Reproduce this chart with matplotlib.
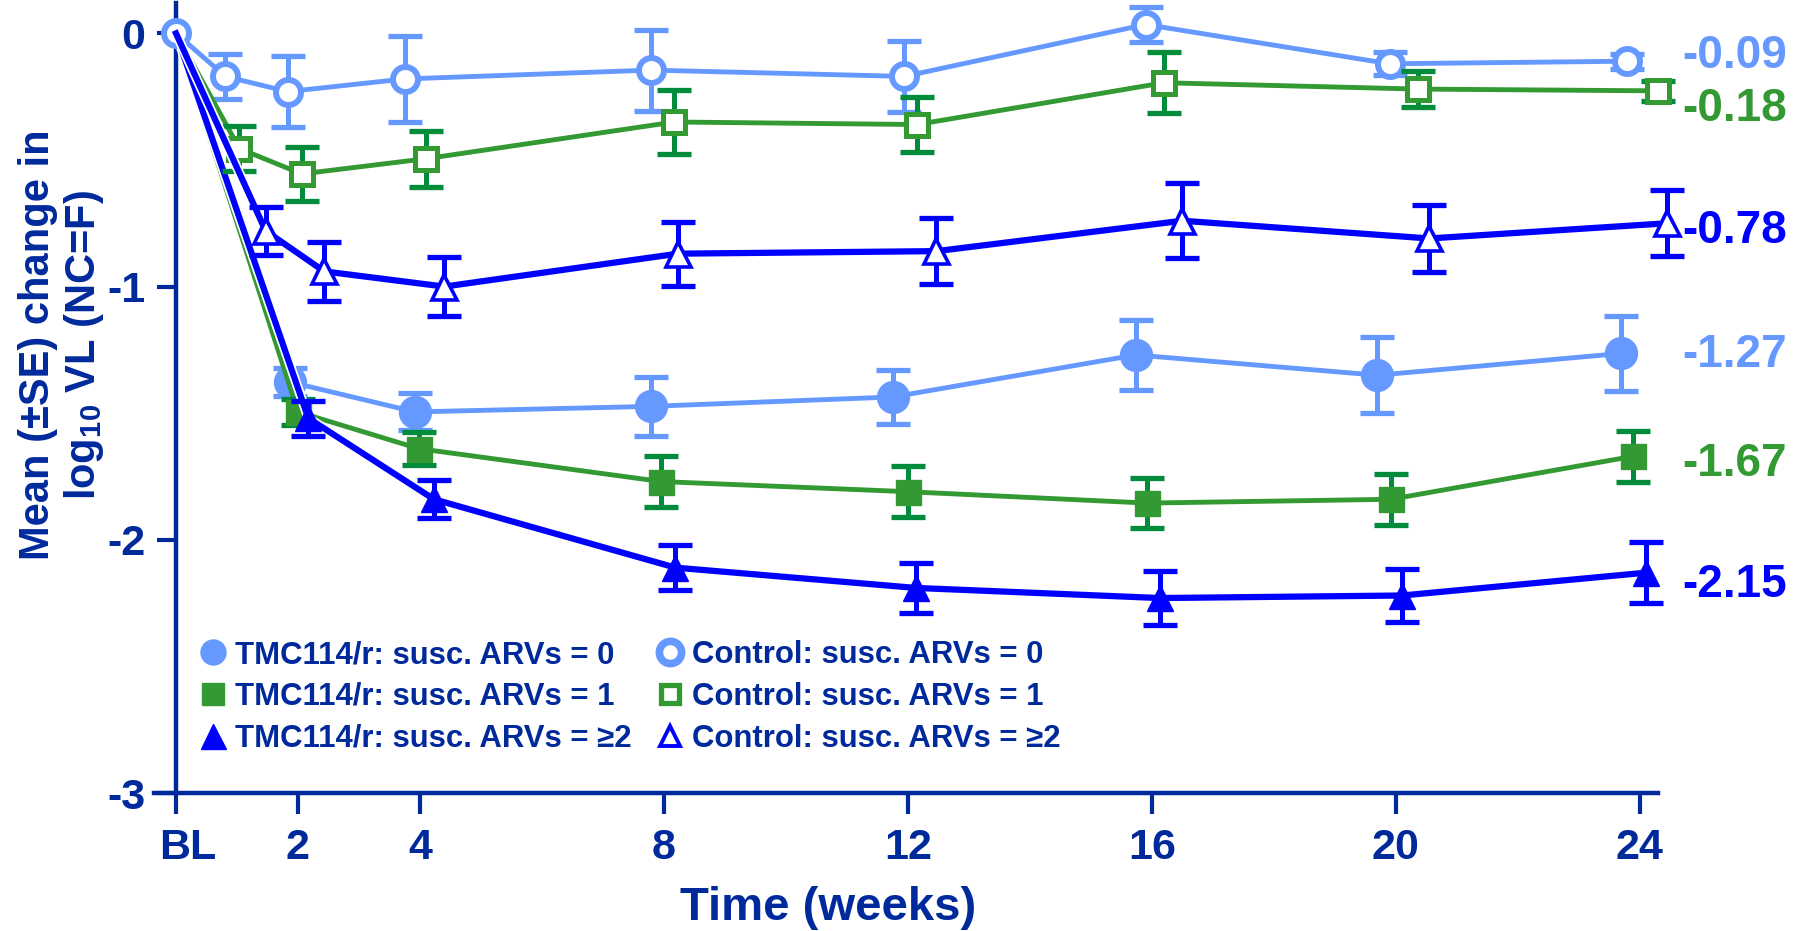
import matplotlib
matplotlib.use("Agg")
import matplotlib.pyplot as plt
import matplotlib.transforms as mtransforms
import matplotlib.patheffects as pe
from matplotlib.lines import Line2D

plt.rcParams['font.family'] = ['Liberation Sans', 'DejaVu Sans']
plt.rcParams['font.weight'] = 'bold'
plt.rcParams['mathtext.fontset'] = 'custom'
plt.rcParams['mathtext.rm'] = 'Liberation Sans:bold'
plt.rcParams['mathtext.bf'] = 'Liberation Sans:bold'

navy = '#00299C'
light_blue = '#6699FF'
green = '#339933'
dark_green = '#008C3A'
blue = '#0000FF'

# weeks (slightly dodged as in the figure), mean change, SE
tmc0_x = [0, 1.87, 3.92, 7.79, 11.75, 15.74, 19.7, 23.7]
tmc0_y = [0, -1.377, -1.495, -1.473, -1.436, -1.27, -1.35, -1.264]
tmc0_se = [0, 0.055, 0.073, 0.116, 0.107, 0.14, 0.15, 0.148]

tmc1_x = [0, 2.0, 3.98, 7.96, 12.0, 15.92, 19.92, 23.9]
tmc1_y = [0, -1.495, -1.64, -1.77, -1.81, -1.855, -1.84, -1.67]
tmc1_se = [0, 0.05, 0.064, 0.1, 0.1, 0.1, 0.1, 0.1]

tmc2_x = [0, 2.17, 4.23, 8.19, 12.13, 16.13, 20.1, 24.1]
tmc2_y = [0, -1.52, -1.84, -2.11, -2.19, -2.23, -2.22, -2.13]
tmc2_se = [0, 0.07, 0.075, 0.09, 0.1, 0.105, 0.105, 0.12]

ctl0_x = [0, 0.81, 1.83, 3.75, 7.79, 11.94, 15.9, 19.9, 23.8]
ctl0_y = [0, -0.17, -0.23, -0.18, -0.145, -0.17, 0.035, -0.12, -0.11]
ctl0_se = [0, 0.09, 0.14, 0.17, 0.16, 0.14, 0.07, 0.045, 0.03]

ctl1_x = [0, 1.04, 2.06, 4.1, 8.17, 12.15, 16.2, 20.36, 24.3]
ctl1_y = [0, -0.455, -0.555, -0.495, -0.35, -0.36, -0.195, -0.22, -0.227]
ctl1_se = [0, 0.09, 0.107, 0.11, 0.125, 0.11, 0.12, 0.07, 0.04]

ctl2_x = [0, 1.47, 2.43, 4.4, 8.23, 12.47, 16.5, 20.55, 24.45]
ctl2_y = [0, -0.78, -0.94, -1.0, -0.87, -0.86, -0.74, -0.81, -0.75]
ctl2_se = [0, 0.095, 0.115, 0.118, 0.127, 0.13, 0.148, 0.134, 0.13]

end_labels = ['-0.09', '-0.18', '-0.78', '-1.27', '-1.67', '-2.15']
end_values = [-0.09, -0.18, -0.78, -1.27, -1.67, -2.15]
end_colors = [light_blue, green, blue, light_blue, green, blue]
end_shift = [0.0, -0.12, 0.0, 0.0, -0.03, -0.03]

x_ticks = [0, 2, 4, 8, 12, 16, 20, 24]
x_ticklabels = ['BL', '2', '4', '8', '12', '16', '20', '24']
y_ticks = [0, -1, -2, -3]

legend_labels = ['TMC114/r: susc. ARVs = 0', 'TMC114/r: susc. ARVs = 1',
                 'TMC114/r: susc. ARVs = \u22652',
                 'Control: susc. ARVs = 0', 'Control: susc. ARVs = 1',
                 'Control: susc. ARVs = \u22652']

fig = plt.figure(figsize=(18.04, 9.31), dpi=100)
ax = fig.add_axes([0.0854, 0.1482, 0.8336, 0.8486])

series = [
    # x, y, se, color, errcolor, marker, ms, filled, lw, mew, first marker
    (tmc0_x, tmc0_y, tmc0_se, light_blue, light_blue, 'o', 23, True, 3.5, 1, 1),
    (tmc1_x, tmc1_y, tmc1_se, green, dark_green, 's', 18, True, 3.5, 1, 1),
    (tmc2_x, tmc2_y, tmc2_se, blue, blue, '^', 19, True, 4.5, 1, 1),
    (ctl0_x, ctl0_y, ctl0_se, light_blue, light_blue, 'o', 18, False, 3.5, 4.3, 0),
    (ctl1_x, ctl1_y, ctl1_se, green, dark_green, 's', 15.5, False, 3.5, 3.6, 1),
    (ctl2_x, ctl2_y, ctl2_se, blue, blue, '^', 18, False, 4.5, 2.6, 1),
]

z = 3
for sx, sy, se, col, ecol, mk, ms, filled, lw, mew, first in series:
    line, = ax.plot(sx, sy, color=col, lw=lw, zorder=z, clip_on=False)
    if col == blue:
        line.set_path_effects([pe.Stroke(linewidth=lw + 2.5, foreground='white'),
                               pe.Normal()])
    eb = ax.errorbar(sx[1:], sy[1:], yerr=se[1:], fmt='none', ecolor=ecol,
                     elinewidth=3.6, capsize=12, capthick=3.8, zorder=z + 0.1)
    for art in eb.get_children():
        art.set_clip_on(False)
    ax.plot(sx[first:], sy[first:], ls='none', marker=mk, ms=ms,
            mfc=col if filled else 'white', mec=col, mew=mew,
            zorder=z + 0.2, clip_on=False)
    z += 1

for lab, val, col, sh in zip(end_labels, end_values, end_colors, end_shift):
    ax.text(24.7, val + sh, lab, color=col, fontsize=33, fontweight='bold',
            ha='left', va='center', clip_on=False)

ax.set_xlim(-0.36, 24.3)
ax.set_ylim(-3, 0.12)
ax.spines['left'].set_position(('data', 0))
ax.spines['top'].set_visible(False)
ax.spines['right'].set_visible(False)
for s in ['left', 'bottom']:
    ax.spines[s].set_color(navy)
    ax.spines[s].set_linewidth(3.2)

ax.set_xticks(x_ticks)
ax.set_xticklabels(x_ticklabels)
ax.set_yticks(y_ticks)
ax.set_yticklabels([str(t) for t in y_ticks])
ax.tick_params(axis='x', direction='out', length=15, width=3, color=navy,
               labelcolor=navy, labelsize=31, pad=10)
ax.tick_params(axis='y', direction='out', length=14, width=3, color=navy,
               labelcolor=navy, labelsize=31, pad=8)
for lbl in ax.get_xticklabels() + ax.get_yticklabels():
    lbl.set_fontweight('bold')
bl = ax.get_xticklabels()[0]
bl.set_transform(bl.get_transform() + mtransforms.ScaledTranslation(
    0.12, 0, fig.dpi_scale_trans))

fig.text(828 / 1804, 1 - 908 / 931, 'Time (weeks)', color=navy, fontsize=34,
         fontweight='bold', ha='center', va='center')
fig.text(62 / 1804, 1 - 345 / 931, 'Mean (\u00b1SE) change in\nlog$_{10}$ VL (NC=F)',
         color=navy, fontsize=30, fontweight='bold', rotation=90,
         ha='center', va='center', multialignment='center', linespacing=1.12)

handles = [
    Line2D([], [], ls='none', marker='o', ms=18, mfc=light_blue, mec=light_blue),
    Line2D([], [], ls='none', marker='s', ms=16.5, mfc=green, mec=green),
    Line2D([], [], ls='none', marker='^', ms=18, mfc=blue, mec=blue),
    Line2D([], [], ls='none', marker='o', ms=16, mfc='white', mec=light_blue, mew=5.5),
    Line2D([], [], ls='none', marker='s', ms=13, mfc='white', mec=green, mew=3.8),
    Line2D([], [], ls='none', marker='^', ms=15, mfc='white', mec=blue, mew=2.8),
]
leg = ax.legend(handles, legend_labels, ncol=2, loc='upper left',
                bbox_to_anchor=(197 / 1804, 1 - 640 / 931),
                bbox_transform=fig.transFigure, frameon=False,
                prop={'size': 22.4, 'weight': 'bold'}, handlelength=1.0,
                handletextpad=0.22, columnspacing=0.72, labelspacing=0.38,
                borderpad=0, borderaxespad=0)
for t in leg.get_texts():
    t.set_color(navy)

fig.savefig('out.png', dpi=100)
